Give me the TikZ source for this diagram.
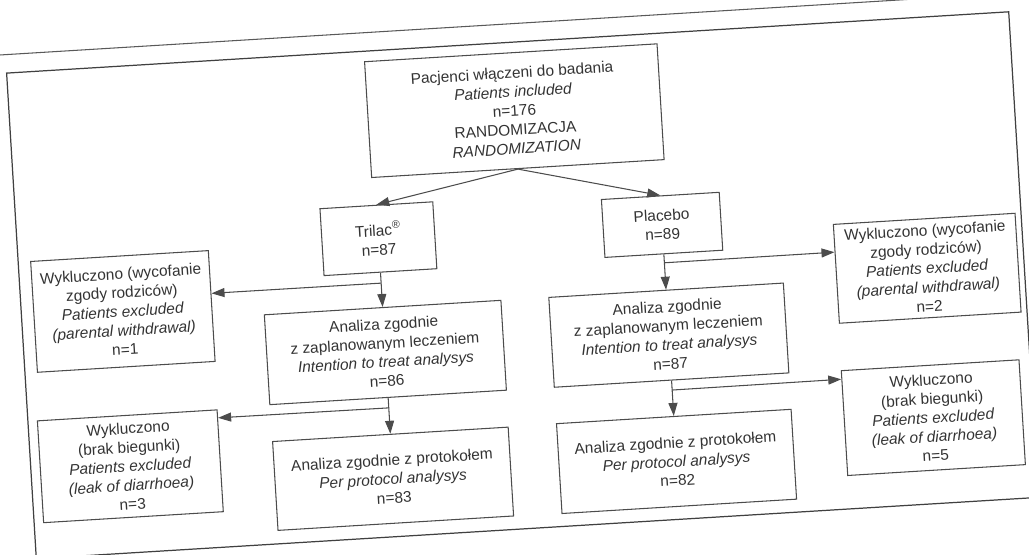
\documentclass[tikz,border=0pt]{standalone}
\usepackage{fontspec}
\setmainfont{Liberation Sans}
\usepackage{tikz}
\usetikzlibrary{arrows.meta,calc}

\begin{document}
\begin{tikzpicture}[
  box/.style={draw=black!70,line width=0.6pt,align=center,inner sep=1pt,text=black!80,font=\fontsize{8.8}{10.8}\selectfont},
  arr/.style={-{Triangle[length=2.6mm,width=1.8mm]},draw=black!70,line width=0.6pt}
]
\useasboundingbox (-10.28,-5.54) rectangle (10.30,5.54);
\clip (-10.28,-5.54) rectangle (10.30,5.54);
\begin{scope}[rotate=3.5,transform shape]
\draw[black!65,line width=0.6pt] (-11,5.06) -- (11.5,5.06);
\draw[black!75,line width=0.7pt] (-9.88,-5.04) rectangle (10.2,4.69);
\node[box,minimum width=5.86cm,minimum height=2.32cm] (rnd) at (0.21,3.32) {Pacjenci włączeni do badania\\\textit{Patients included}\\n=176\\RANDOMIZACJA\\\textit{RANDOMIZATION}};
\node[box,minimum width=2.26cm,minimum height=1.34cm] (tr) at (-2.66,0.93) {Trilac\textsuperscript{®}\\n=87};
\node[box,minimum width=2.36cm,minimum height=1.16cm] (pl) at (3.02,0.86) {Placebo\\n=89};
\node[box,minimum width=3.56cm,minimum height=2.22cm] (wl1) at (-7.85,-0.21) {Wykluczono (wycofanie\\zgody rodziców)\\\textit{Patients excluded}\\\textit{(parental withdrawal)}\\n=1};
\node[box,minimum width=3.64cm,minimum height=1.98cm] (wr1) at (8.26,-0.33) {Wykluczono (wycofanie\\zgody rodziców)\\\textit{Patients excluded}\\\textit{(parental withdrawal)}\\n=2};
\node[box,minimum width=4.74cm,minimum height=1.8cm] (itl) at (-2.66,-1.35) {Analiza zgodnie\\z zaplanowanym leczeniem\\\textit{Intention to treat analysys}\\n=86};
\node[box,minimum width=4.7cm,minimum height=1.8cm] (itr) at (3.02,-1.35) {Analiza zgodnie\\z zaplanowanym leczeniem\\\textit{Intention to treat analysys}\\n=87};
\node[box,minimum width=3.6cm,minimum height=2.04cm] (wl2) at (-7.89,-3.31) {Wykluczono\\(brak biegunki)\\\textit{Patients excluded}\\\textit{(leak of diarrhoea)}\\n=3};
\node[box,minimum width=3.56cm,minimum height=2.1cm] (wr2) at (8.2,-3.32) {Wykluczono\\(brak biegunki)\\\textit{Patients excluded}\\\textit{(leak of diarrhoea)}\\n=5};
\node[box,minimum width=4.72cm,minimum height=1.78cm] (ppl) at (-2.66,-3.88) {Analiza zgodnie z protokołem\\\textit{Per protocol analysys}\\n=83};
\node[box,minimum width=4.7cm,minimum height=1.8cm] (ppr) at (3.02,-3.88) {Analiza zgodnie z protokołem\\\textit{Per protocol analysys}\\n=82};
\coordinate (bl1) at (-2.66,0.04);
\coordinate (br1) at (3.02,0.10);
\coordinate (bl2) at (-2.66,-2.46);
\coordinate (br2) at (3.02,-2.45);
\coordinate (el1) at ($(wl1.north east)!0.387!(wl1.south east)$);
\coordinate (er1) at ($(wr1.north west)!0.283!(wr1.south west)$);
\coordinate (el2) at ($(wl2.north east)!0.083!(wl2.south east)$);
\coordinate (er2) at ($(wr2.north west)!0.086!(wr2.south west)$);
\draw[arr] (rnd.south) -- (tr.north);
\draw[arr] (rnd.south) -- (pl.north);
\draw[arr] (tr) -- (itl);
\draw[arr] (pl) -- (itr);
\draw[arr] (bl1) -- (el1);
\draw[arr] (br1) -- (er1);
\draw[arr] (itl) -- (ppl);
\draw[arr] (itr) -- (ppr);
\draw[arr] (bl2) -- (el2);
\draw[arr] (br2) -- (er2);
\end{scope}
\end{tikzpicture}
\end{document}
